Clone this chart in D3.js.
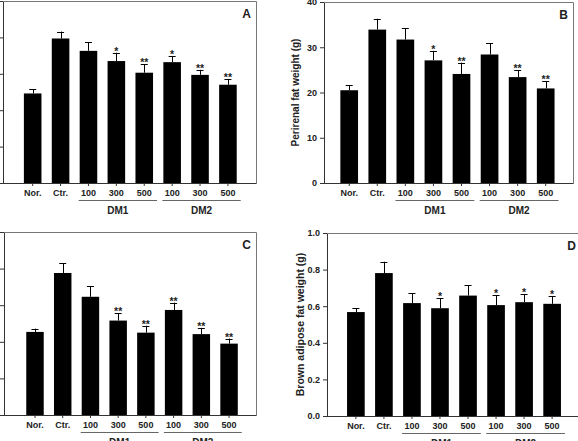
<!DOCTYPE html>
<html>
<head>
<meta charset="utf-8">
<script src="https://cdn.jsdelivr.net/npm/d3@7"></script>
<style>
  body { margin: 0; background: #fff; }
  svg text { font-family: "Liberation Sans", Arial, sans-serif; font-weight: bold; fill: #222; }
</style>
</head>
<body>
<div id="canvas"></div>
<script>
"use strict"

/* Data: shared categories and dose groups */
let categories = ["Nor.", "Ctr.", "100", "300", "500", "100", "300", "500"];
let groupNames = ["DM1", "DM2"];
let groupFirst = [2, 5];
let groupLast = [4, 7];

/* Panel A (y labels cut off in the source) */
let valuesA = [24.6, 39.7, 36.3, 33.5, 30.3, 33.2, 29.7, 27.0];
let errorsA = [1.2, 1.9, 2.3, 2.3, 2.3, 1.7, 1.4, 1.6];
let starsA = ["", "", "", "*", "**", "*", "**", "**"];
let ticksA = [0, 10, 20, 30, 40, 50];

/* Panel B: perirenal fat */
let valuesB = [20.5, 33.9, 31.7, 27.1, 24.1, 28.4, 23.4, 20.9];
let errorsB = [1.1, 2.4, 2.5, 2.1, 2.5, 2.5, 1.5, 1.6];
let starsB = ["", "", "", "*", "**", "", "**", "**"];
let ticksB = [0, 10, 20, 30, 40];

/* Panel C (y labels cut off in the source) */
let valuesC = [22.7, 38.8, 32.3, 25.8, 22.5, 28.7, 22.1, 19.5];
let errorsC = [0.9, 2.6, 2.9, 2.0, 1.9, 2.0, 1.7, 1.4];
let starsC = ["", "", "", "**", "**", "**", "**", "**"];
let ticksC = [0, 10, 20, 30, 40, 50];

/* Panel D: brown adipose fat */
let valuesD = [0.568, 0.781, 0.617, 0.589, 0.658, 0.606, 0.622, 0.613];
let errorsD = [0.022, 0.062, 0.053, 0.055, 0.058, 0.053, 0.042, 0.042];
let starsD = ["", "", "", "*", "", "*", "*", "*"];
let ticksD = [0, 0.2, 0.4, 0.6, 0.8, 1.0];

let svgWidth = 578;
let svgHeight = 441;

let svg = d3.select("#canvas")
    .append("svg")
    .attr("width", svgWidth)
    .attr("height", svgHeight);

let panels = [
    { letter: "A", left: 3, top: 1, right: 256, bottom: 183, outer: 0.72, align: 0.52,
      domain: [0, 50], ticks: ticksA, format: () => "", title: "",
      values: valuesA, errors: errorsA, stars: starsA },
    { letter: "B", left: 324, top: 2, right: 573, bottom: 183, outer: 0.62, align: 0.47,
      domain: [0, 40], ticks: ticksB, format: d3.format("d"), title: "Perirenal fat weight (g)", titleX: 298.5, titleSize: 10,
      values: valuesB, errors: errorsB, stars: starsB },
    { letter: "C", left: 4, top: 232, right: 256, bottom: 415, outer: 0.73, align: 0.55,
      domain: [0, 50], ticks: ticksC, format: () => "", title: "",
      values: valuesC, errors: errorsC, stars: starsC },
    { letter: "D", left: 327, top: 233, right: 581, bottom: 416, outer: 0.715, align: 0.5,
      domain: [0, 1], ticks: ticksD, format: d3.format(".1f"), title: "Brown adipose fat weight (g)", titleX: 304, titleSize: 10.5,
      values: valuesD, errors: errorsD, stars: starsD }
];

panels.forEach(drawPanel);

function drawPanel(p) {
    let x = d3.scaleBand()
        .domain(d3.range(categories.length))
        .range([p.left, p.right])
        .paddingInner(0.37)
        .paddingOuter(p.outer)
        .align(p.align);

    let y = d3.scaleLinear()
        .domain(p.domain)
        .range([p.bottom, p.top]);

    let g = svg.append("g");

    /* bars */
    g.selectAll("rect.bar")
        .data(p.values)
        .join("rect")
        .attr("class", "bar")
        .attr("x", (d, i) => x(i))
        .attr("y", d => y(d))
        .attr("width", x.bandwidth())
        .attr("height", d => y(0) - y(d))
        .attr("fill", "#000");

    /* error bars, upper half only */
    let cap = 3.5;
    let err = g.selectAll("g.err")
        .data(p.values)
        .join("g")
        .attr("class", "err");
    err.append("line")
        .attr("x1", (d, i) => Math.round(x(i) + x.bandwidth() / 2) + 0.5)
        .attr("x2", (d, i) => Math.round(x(i) + x.bandwidth() / 2) + 0.5)
        .attr("y1", d => y(d))
        .attr("y2", (d, i) => y(d + p.errors[i]))
        .attr("stroke", "#000");
    err.append("line")
        .attr("x1", (d, i) => x(i) + x.bandwidth() / 2 - cap)
        .attr("x2", (d, i) => x(i) + x.bandwidth() / 2 + cap)
        .attr("y1", (d, i) => Math.round(y(d + p.errors[i])) + 0.5)
        .attr("y2", (d, i) => Math.round(y(d + p.errors[i])) + 0.5)
        .attr("stroke", "#000");

    /* significance marks */
    g.selectAll("text.star")
        .data(p.stars)
        .join("text")
        .attr("class", "star")
        .attr("x", (d, i) => x(i) + x.bandwidth() / 2)
        .attr("y", (d, i) => y(p.values[i] + p.errors[i]) + 2)
        .attr("text-anchor", "middle")
        .attr("font-size", 10.5)
        .text(d => d);

    /* frame top and right */
    g.append("path")
        .attr("d", "M" + (p.left + 0.5) + "," + (p.top + 0.5) + "H" + (p.right + 0.5) + "V" + (p.bottom + 0.5))
        .attr("fill", "none")
        .attr("stroke", "#777");

    /* y axis */
    let yAxis = g.append("g")
        .attr("transform", "translate(" + p.left + ",0)")
        .call(d3.axisLeft(y).tickValues(p.ticks).tickSize(4).tickPadding(3).tickFormat(p.format).tickSizeOuter(0));

    /* x axis */
    let xAxis = g.append("g")
        .attr("transform", "translate(0," + p.bottom + ")")
        .call(d3.axisBottom(x).tickSize(3).tickPadding(4).tickSizeOuter(0).tickFormat(i => categories[i]));

    [yAxis, xAxis].forEach(function (a) {
        a.attr("font-family", null).attr("font-size", 9);
        a.select(".domain").attr("stroke", "#333");
        a.selectAll(".tick line").attr("stroke", "#333");
    });
    xAxis.select(".domain").attr("d", "M" + p.left + ",0.5H" + (p.right + 0.5));

    /* dose group underlines and names */
    groupNames.forEach(function (name, k) {
        let x0 = x(groupFirst[k]) - 1;
        let x1 = x(groupLast[k]) + x.bandwidth() + 4;
        g.append("line")
            .attr("x1", x0)
            .attr("x2", x1)
            .attr("y1", p.bottom + 17.5)
            .attr("y2", p.bottom + 17.5)
            .attr("stroke", "#666");
        g.append("text")
            .attr("x", (x0 + x1) / 2)
            .attr("y", p.bottom + 31)
            .attr("text-anchor", "middle")
            .attr("font-size", 10)
            .text(name);
    });

    /* panel letter */
    g.append("text")
        .attr("x", p.right - 5)
        .attr("y", p.top + 17)
        .attr("text-anchor", "end")
        .attr("font-size", 12)
        .text(p.letter);

    /* y axis title */
    if (p.title) {
        g.append("text")
            .attr("transform", "translate(" + p.titleX + "," + ((p.top + p.bottom) / 2) + ") rotate(-90)")
            .attr("text-anchor", "middle")
            .attr("font-size", p.titleSize)
            .text(p.title);
    }
}
</script>
</body>
</html>
